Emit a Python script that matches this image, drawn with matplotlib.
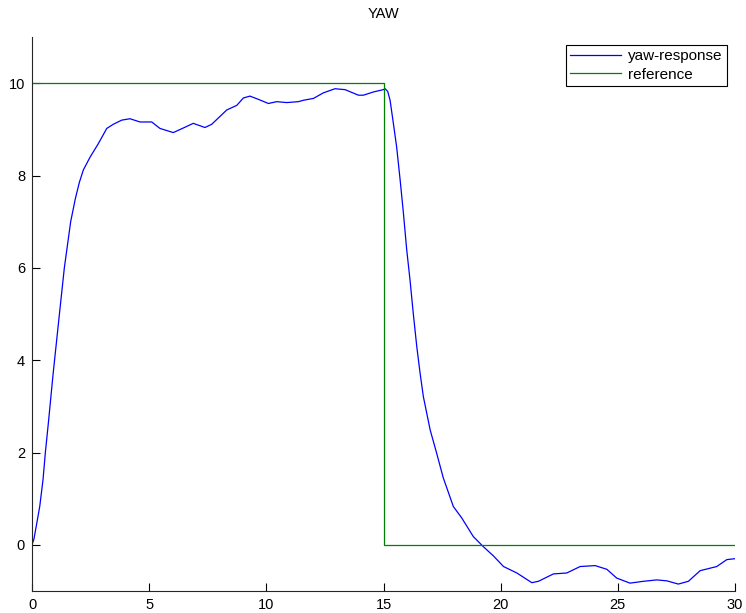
import matplotlib
matplotlib.use('Agg')
import matplotlib.pyplot as plt

plt.rcParams['font.family'] = ['Liberation Sans', 'DejaVu Sans']

# yaw response
t = [0.0, 0.08, 0.18, 0.33, 0.47, 0.57, 0.71, 0.9, 1.17, 1.38, 1.65, 1.85, 2.02,
     2.19, 2.48, 2.83, 3.19, 3.47, 3.83, 4.18, 4.61, 5.11, 5.46, 6.03, 6.46, 6.88,
     7.38, 7.67, 8.31, 8.74, 9.02, 9.30, 9.66, 10.09, 10.44, 10.87, 11.37, 11.58,
     12.01, 12.43, 12.93, 13.36, 13.93, 14.14, 14.57, 14.99, 15.07, 15.18, 15.28,
     15.42, 15.56, 15.71, 15.85, 15.99, 16.13, 16.27, 16.42, 16.56, 16.70, 16.99,
     17.27, 17.55, 17.98, 18.34, 18.83, 19.26, 19.69, 20.12, 20.69, 21.33, 21.61,
     22.25, 22.82, 23.39, 24.03, 24.53, 24.95, 25.52, 26.09, 26.66, 27.09, 27.58,
     28.01, 28.51, 29.22, 29.65, 30.0]
yaw = [0.0, 0.12, 0.4, 0.83, 1.41, 2.0, 2.7, 3.7, 5.0, 6.0, 7.0, 7.5, 7.85,
       8.12, 8.40, 8.69, 9.02, 9.11, 9.20, 9.23, 9.16, 9.16, 9.02, 8.93, 9.03, 9.13,
       9.04, 9.11, 9.42, 9.52, 9.68, 9.72, 9.65, 9.56, 9.60, 9.58, 9.60, 9.63,
       9.67, 9.79, 9.88, 9.86, 9.74, 9.74, 9.81, 9.86, 9.88, 9.82, 9.63,
       9.13, 8.62, 7.90, 7.18, 6.39, 5.74, 5.01, 4.29, 3.72, 3.21, 2.49,
       1.98, 1.45, 0.83, 0.58, 0.18, -0.04, -0.24, -0.47, -0.61, -0.82, -0.79,
       -0.63, -0.61, -0.47, -0.45, -0.53, -0.72, -0.83, -0.79, -0.76, -0.78, -0.85,
       -0.79, -0.56, -0.47, -0.32, -0.30]

# reference step
t_ref = [0, 15, 15, 30]
ref = [10, 10, 0, 0]

fig = plt.figure(figsize=(7.46, 6.13), dpi=100)
ax = fig.add_axes([0.0429, 0.0359, 0.9424, 0.9037])

ax.plot(t, yaw, color=(0, 0, 1), lw=0.9, label='yaw-response')
ax.plot(t_ref, ref, color=(0, 0.5, 0), lw=0.9, label='reference')

ax.set_xlim(0, 30)
ax.set_ylim(-1, 11)
ax.set_xticks(range(0, 31, 5))
ax.set_yticks(range(0, 11, 2))
ax.tick_params(direction='in', length=6, labelsize=10.5, pad=5)
ax.spines['top'].set_visible(False)
ax.spines['right'].set_visible(False)
for s in ['left', 'bottom']:
    ax.spines[s].set_linewidth(0.8)
    ax.spines[s].set_color('#262626')

ax.set_title('YAW', fontsize=10.5, pad=14)

leg = ax.legend(loc='upper right', fontsize=11, fancybox=False, framealpha=1,
                borderaxespad=0.5, handlelength=3.3, labelspacing=0.3,
                borderpad=0.3, handletextpad=0.5)
leg.get_frame().set_edgecolor('black')
leg.get_frame().set_linewidth(0.8)

fig.savefig('out.png', dpi=100)
